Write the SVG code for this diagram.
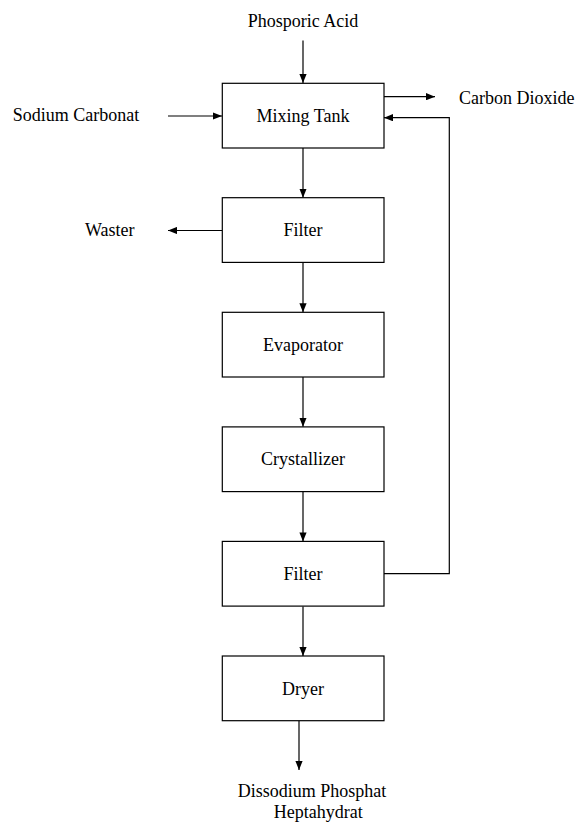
<svg xmlns="http://www.w3.org/2000/svg" width="576" height="823" viewBox="0 0 576 823">
<defs>
<marker id="ah" viewBox="0 0 10 8" refX="10" refY="4" markerWidth="9" markerHeight="7.5" markerUnits="userSpaceOnUse" orient="auto">
<path d="M0,0 L10,4 L0,8 Z" fill="#000"/>
</marker>
<style>
rect.box{fill:#fff;stroke:#000;stroke-width:1.2}
text{font-family:"Liberation Serif","Times New Roman",serif;font-size:18px;fill:#000}
.c{text-anchor:middle}
.conn line,.conn polyline{stroke:#000;stroke-width:1.2;fill:none}
.arr{marker-end:url(#ah)}
</style>
</defs>
<rect width="576" height="823" fill="#fff"/>
<g id="connectors" class="conn">
<line class="arr" x1="303" y1="40.5" x2="303" y2="83"/>
<line class="arr" x1="168" y1="116" x2="222" y2="116"/>
<line class="arr" x1="384" y1="96.7" x2="435" y2="96.7"/>
<line class="arr" x1="303" y1="148" x2="303" y2="197.7"/>
<line class="arr" x1="222" y1="230.5" x2="168" y2="230.5"/>
<line class="arr" x1="303" y1="262.6" x2="303" y2="312.3"/>
<line class="arr" x1="303" y1="377" x2="303" y2="426.8"/>
<line class="arr" x1="303" y1="491.8" x2="303" y2="541.4"/>
<line class="arr" x1="303" y1="606.4" x2="303" y2="656"/>
<polyline class="arr" points="384,573.6 449.3,573.6 449.3,117.7 384,117.7"/>
<line class="arr" x1="299" y1="721" x2="299" y2="770"/>
</g>
<g id="mixing-tank"><rect class="box" x="222.3" y="83.3" width="161.7" height="64.7"/><text class="c" x="303" y="121.5">Mixing Tank</text></g>
<g id="filter1"><rect class="box" x="222.3" y="197.7" width="161.7" height="64.7"/><text class="c" x="303" y="236">Filter</text></g>
<g id="evaporator"><rect class="box" x="222.3" y="312.3" width="161.7" height="64.7"/><text class="c" x="303" y="350.5">Evaporator</text></g>
<g id="crystallizer"><rect class="box" x="222.3" y="426.9" width="161.7" height="64.7"/><text class="c" x="303" y="465">Crystallizer</text></g>
<g id="filter2"><rect class="box" x="222.3" y="541.4" width="161.7" height="64.7"/><text class="c" x="303" y="580">Filter</text></g>
<g id="dryer"><rect class="box" x="222.3" y="656" width="161.7" height="64.7"/><text class="c" x="303" y="694.5">Dryer</text></g>
<g id="phosporic-acid"><text class="c" x="303" y="26.7">Phosporic Acid</text></g>
<g id="sodium-carbonat"><text x="12.7" y="120.7">Sodium Carbonat</text></g>
<g id="carbon-dioxide"><text x="459" y="103.5">Carbon Dioxide</text></g>
<g id="waster"><text x="85" y="235.7">Waster</text></g>
<g id="product"><text class="c" x="312" y="797">Dissodium Phosphat</text><text class="c" x="318.3" y="817.5">Heptahydrat</text></g>
</svg>
